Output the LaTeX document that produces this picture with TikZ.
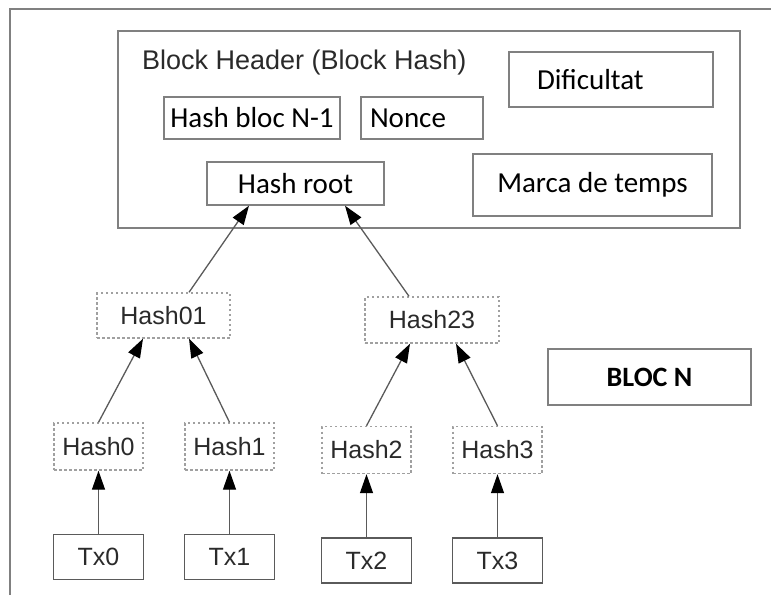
\documentclass[tikz,border=0pt]{standalone}
\usepackage{fontspec}
\setmainfont{Carlito}
\newfontfamily\helv{Liberation Sans}
\usetikzlibrary{positioning,arrows.meta}
\usepackage{xcolor}
\definecolor{boxgray}{HTML}{808080}
\definecolor{dotgray}{HTML}{A0A0A0}
\definecolor{linegray}{HTML}{5A5A5A}
\definecolor{txtgray}{HTML}{2A2A2A}

\begin{document}
\begin{tikzpicture}[x=1pt,y=-1pt]
	% styles
	\tikzstyle{frame} = [rectangle, draw=boxgray, line width=1.6pt, inner sep=0pt]	% header frame
	\tikzstyle{field} = [rectangle, draw=boxgray, line width=1.4pt, inner sep=0pt, text=black, font=\fontsize{29}{34}\selectfont]	% header fields
	\tikzstyle{hashbox} = [rectangle, draw=dotgray, line width=1.4pt, dash pattern=on 2.5pt off 2.5pt, minimum width=89pt, minimum height=47pt, inner sep=0pt, text=txtgray, font=\helv\fontsize{25}{30}\selectfont]	% hash nodes
	\tikzstyle{txbox} = [rectangle, draw=linegray, line width=1.4pt, minimum width=90pt, minimum height=45pt, inner sep=0pt, text=txtgray, font=\helv\fontsize{25}{30}\selectfont]	% transactions
	\tikzstyle{arrow} = [draw=linegray, line width=1.3pt, -{Triangle[length=19pt,width=13pt,color=black]}]	% arrows
	\useasboundingbox (0,0) rectangle (771,595);
	\draw[boxgray, line width=1.5pt] (10,595) -- (10,9) -- (771,9);

	% block header
	\node (header) [frame, minimum width=622pt, minimum height=197pt] at (429,129.5) {};
	\node (title) [anchor=west, inner sep=0pt, text=txtgray, font=\helv\fontsize{27}{32}\selectfont] at (142,63) {Block Header (Block Hash)};
	\node (prev) [field, minimum width=176pt, minimum height=42pt] at (252,118) {Hash bloc N-1};
	\node (nonce) [field, minimum width=122pt, minimum height=42pt, text width=104pt, align=left] at (422,118) {Nonce};
	\node (dif) [field, minimum width=204pt, minimum height=55pt, text width=148pt, align=left] at (611,79.5) {Dificultat};
	\node (root) [field, minimum width=177pt, minimum height=43pt] at (295.5,183.5) {Hash root};
	\node (time) [field, minimum width=239pt, minimum height=62pt] at (592.5,185) {Marca de temps};
	\node (bloc) [field, minimum width=203pt, minimum height=56pt, font=\bfseries\fontsize{28}{33}\selectfont] at (649.5,377) {BLOC N};

	% merkle tree
	\node (h01) [hashbox, minimum width=133pt, minimum height=45pt] at (163.5,315.5) {Hash01};
	\node (h23) [hashbox, minimum width=134pt, minimum height=46pt] at (432,320) {Hash23};
	\node (h0) [hashbox] at (98.5,446.5) {Hash0};
	\node (h1) [hashbox] at (229.5,446.5) {Hash1};
	\node (h2) [hashbox] at (366.5,450) {Hash2};
	\node (h3) [hashbox] at (497.5,450) {Hash3};
	\node (tx0) [txbox, below=63pt of h0] {Tx0};
	\node (tx1) [txbox, below=63pt of h1] {Tx1};
	\node (tx2) [txbox, below=63pt of h2] {Tx2};
	\node (tx3) [txbox, below=63pt of h3] {Tx3};

	% connectors
	\draw [arrow] (tx0) -- (h0);
	\draw [arrow] (tx1) -- (h1);
	\draw [arrow] (tx2) -- (h2);
	\draw [arrow] (tx3) -- (h3);
	\draw [arrow] (h0.north) -- ([xshift=-20.5pt]h01.south);
	\draw [arrow] (h1.north) -- ([xshift=25.5pt]h01.south);
	\draw [arrow] (h2.north) -- ([xshift=-22pt]h23.south);
	\draw [arrow] (h3.north) -- ([xshift=24pt]h23.south);
	\draw [arrow] ([xshift=25.5pt]h01.north) -- ([xshift=-46.5pt]root.south);
	\draw [arrow] ([xshift=-23pt]h23.north) -- ([xshift=49.5pt]root.south);
\end{tikzpicture}
\end{document}
